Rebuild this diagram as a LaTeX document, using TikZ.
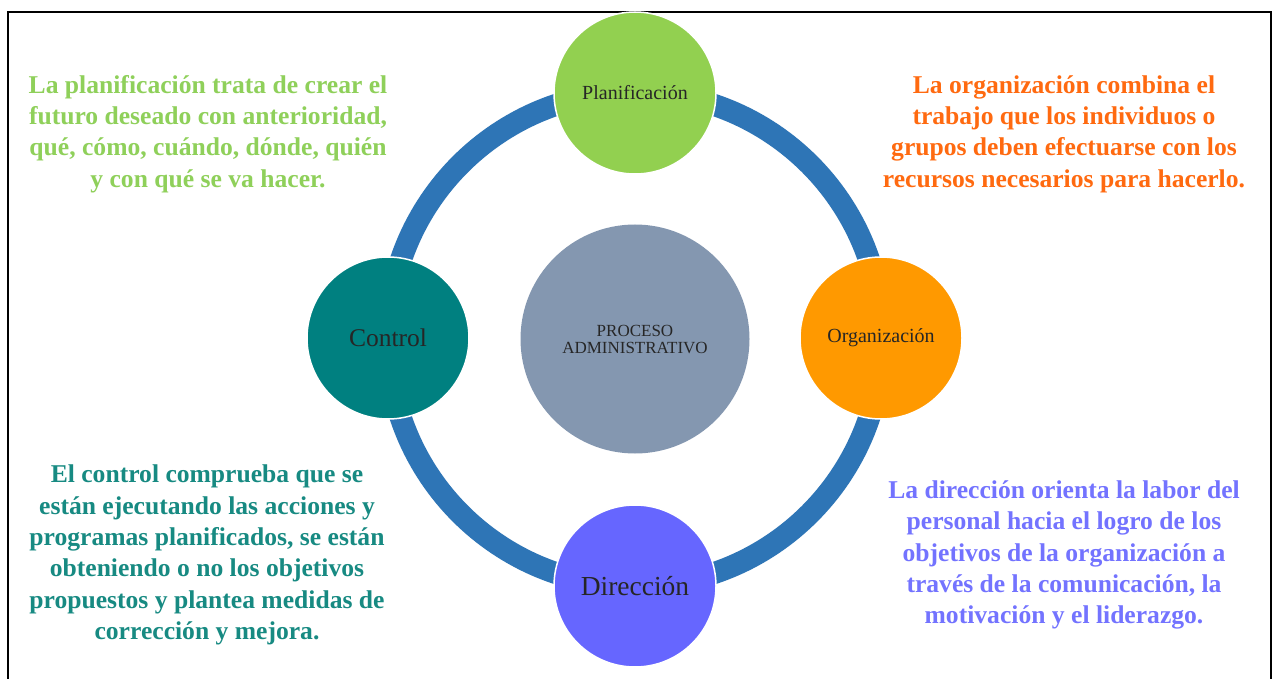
\documentclass[tikz,border=0pt]{standalone}
\usepackage{fontspec}
\setmainfont{Liberation Serif}
\begin{document}
\definecolor{ringblue}{HTML}{2E75B6}
\definecolor{plangreen}{HTML}{92D050}
\definecolor{orgorange}{HTML}{FF9900}
\definecolor{ctrlteal}{HTML}{008080}
\definecolor{dirblue}{HTML}{6666FF}
\definecolor{coregray}{HTML}{8497B0}
\definecolor{txtgreen}{HTML}{8FD05A}
\definecolor{txtorange}{HTML}{FF6A10}
\definecolor{txtteal}{HTML}{178A82}
\definecolor{txtblue}{HTML}{7373FF}
\begin{tikzpicture}[x=1pt,y=-1pt,
  stage/.style={circle,draw=white,line width=1.5pt,minimum size=162pt,inner sep=0pt,text=black!85,align=center},
  note/.style={align=center,inner sep=0pt,font=\bfseries\fontsize{25.6}{31.3}\selectfont}]
\useasboundingbox (0,0) rectangle (1277,679);
\fill[white] (0,0) rectangle (1277,679);
% outer frame, open at the lower edge
\begin{scope}
\clip (0,0) rectangle (1277,679);
\draw[line width=1.6pt] (8,12) rectangle (1271,700);
\end{scope}
% ring linking the four stages
\coordinate (c) at (635,339);
\draw[ringblue,line width=22pt] (c) circle[radius=247];
% central circle
\node[circle,fill=coregray,minimum size=229pt,inner sep=0pt,align=center,
  font=\fontsize{17}{18}\selectfont,text=black!85] (core) at (c) {PROCESO\\[-1pt]ADMINISTRATIVO};
% stage circles
\node[stage,fill=plangreen,font=\fontsize{20}{22}\selectfont] (plan) at (635,93) {Planificación};
\node[stage,fill=orgorange,font=\fontsize{20}{22}\selectfont] (org) at (881,338) {Organización};
\node[stage,fill=dirblue,font=\fontsize{27.5}{30}\selectfont] (dir) at (635,586) {Dirección};
\node[stage,fill=ctrlteal,font=\fontsize{25.5}{28}\selectfont] (ctrl) at (388,338) {Control};
% descriptions
\node[note,text=txtgreen] (planT) at (208,134)
  {La planificación trata de crear el\\futuro deseado con anterioridad,\\qué, cómo, cuándo, dónde, quién\\y con qué se va hacer.};
\node[note,text=txtorange] (orgT) at (1064,134)
  {La organización combina el\\trabajo que los individuos o\\grupos deben efectuarse con los\\recursos necesarios para hacerlo.};
\node[note,text=txtteal] (ctrlT) at (207,555)
  {El control comprueba que se\\están ejecutando las acciones y\\programas planificados, se están\\obteniendo o no los objetivos\\propuestos y plantea medidas de\\corrección y mejora.};
\node[note,text=txtblue] (dirT) at (1064,555)
  {La dirección orienta la labor del\\personal hacia el logro de los\\objetivos de la organización a\\través de la comunicación, la\\motivación y el liderazgo.};
\end{tikzpicture}
\end{document}
